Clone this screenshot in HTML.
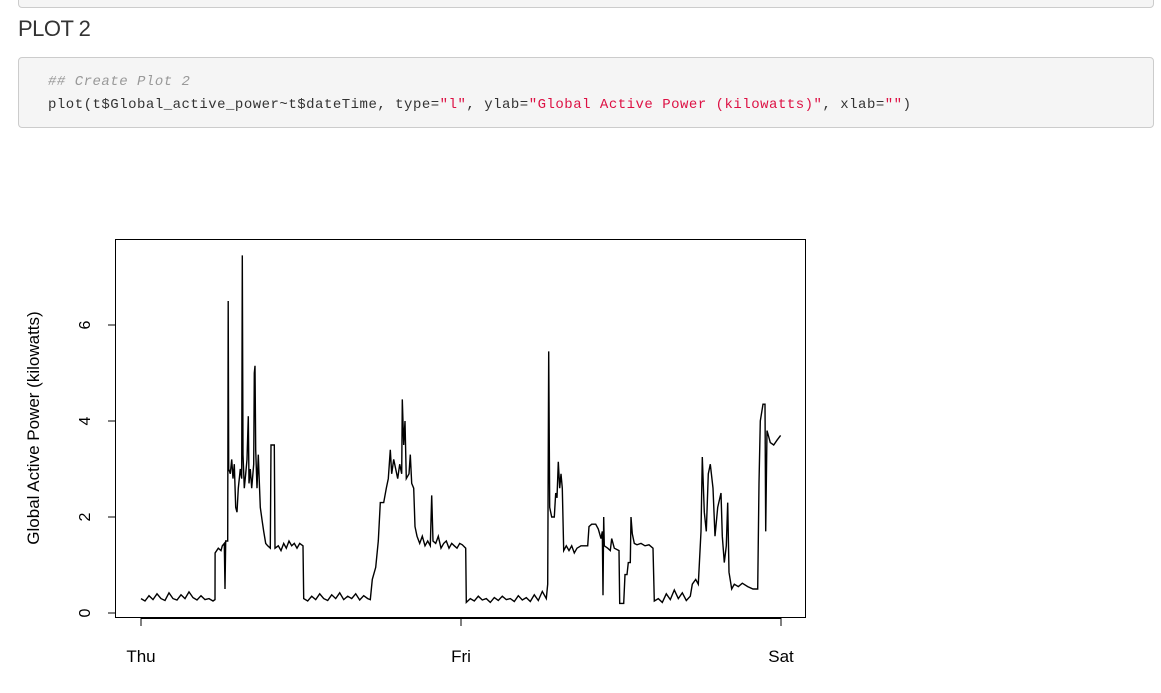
<!DOCTYPE html>
<html><head><meta charset="utf-8"><style>
body{margin:0;width:1161px;height:693px;background:#fff;position:relative;overflow:hidden;font-family:"Liberation Sans",sans-serif}
.prev{position:absolute;left:18px;top:-10px;width:1134px;height:16px;border:1px solid #ccc;border-radius:4px;background:#f5f5f5}
h2{position:absolute;left:18px;top:16px;margin:0;font-size:22px;font-weight:normal;color:#333;letter-spacing:-0.5px}
.code{position:absolute;left:18px;top:57px;width:1134px;height:69px;border:1px solid #ccc;border-radius:4px;background:#f5f5f5;font-family:"Liberation Mono",monospace;font-size:14px;letter-spacing:0.5px;color:#333}
.code div{position:absolute;left:29px;white-space:pre}
.cm{color:#999;font-style:italic}.st{color:#d14}
svg{position:absolute;left:0;top:0}
</style></head><body>
<div class="prev"></div>
<h2>PLOT 2</h2>
<div class="code">
<div style="top:16px" class="cm">## Create Plot 2</div>
<div style="top:39px">plot(t$Global_active_power~t$dateTime, type=<span class="st">"l"</span>, ylab=<span class="st">"Global Active Power (kilowatts)"</span>, xlab=<span class="st">""</span>)</div>
</div>
<svg id="chart" width="1161" height="693"></svg>
<script>
const hours=[0,0.3,0.6,0.9,1.2,1.5,1.8,2.1,2.4,2.7,3.0,3.3,3.6,3.9,4.2,4.5,4.8,5.1,5.4,5.55,
5.56,5.8,6.0,6.1,6.25,6.3,6.35,6.5,6.54,6.58,6.7,6.8,6.9,7.0,7.1,7.2,7.3,7.45,7.55,7.6,7.65,7.75,7.85,7.95,8.05,8.1,8.2,8.3,8.45,8.5,8.55,8.6,8.7,8.8,8.85,8.95,9.1,9.2,9.35,9.5,9.7,9.75,10.0,10.05,10.3,10.5,10.7,10.9,11.1,11.3,11.5,11.7,11.9,12.15,
12.2,12.5,12.8,13.1,13.4,13.7,14.0,14.3,14.6,14.9,15.2,15.5,15.8,16.1,16.4,16.7,17.0,17.2,
17.35,17.6,17.8,17.95,18.2,18.4,18.55,18.7,18.8,18.95,19.1,19.25,19.4,19.55,19.6,19.7,19.8,19.9,20.1,20.2,20.3,20.45,20.55,20.7,20.9,21.1,21.3,21.5,21.7,21.8,21.9,22.1,22.3,22.5,22.7,22.9,23.1,23.3,23.5,23.7,23.9,24.1,24.35,
24.4,24.7,25.0,25.3,25.6,25.9,26.2,26.5,26.8,27.1,27.4,27.7,28.0,28.3,28.6,28.9,29.2,29.5,29.8,30.1,30.4,30.5,
30.58,30.65,30.8,31.0,31.1,31.2,31.3,31.4,31.5,31.6,31.7,31.9,32.1,32.3,32.5,32.7,33.0,33.5,33.6,33.8,34.1,34.3,34.5,34.6,34.65,34.7,34.75,35.0,35.2,35.3,35.5,35.85,
35.9,36.2,36.3,36.45,36.55,36.7,36.75,36.85,37.0,37.2,37.5,37.8,38.1,38.4,
38.5,38.8,39.1,39.4,39.7,40.0,40.3,40.6,40.9,41.2,
41.35,41.6,41.8,42.0,42.1,42.25,42.4,42.55,42.7,42.9,43.05,43.25,43.5,43.6,43.75,43.9,44.0,44.1,44.3,44.5,44.8,45.1,45.5,45.9,46.25,
46.35,46.45,46.65,46.8,46.85,46.95,47.2,47.45,47.7,47.97];
const power=[.3,.25,.36,.28,.4,.3,.26,.42,.3,.27,.38,.3,.44,.32,.27,.36,.28,.3,.25,.28,
1.25,1.35,1.3,1.4,1.45,0.5,1.5,1.5,6.5,3.0,2.9,3.2,2.8,3.1,2.2,2.1,2.6,3.0,2.8,7.45,3.3,2.6,2.9,3.2,4.1,2.7,3.0,2.6,3.1,5.0,5.15,3.4,2.6,3.3,2.9,2.2,1.9,1.7,1.45,1.4,1.35,3.5,3.5,1.35,1.4,1.3,1.45,1.35,1.5,1.4,1.45,1.35,1.45,1.4,
.3,.25,.35,.28,.4,.3,.26,.38,.3,.42,.28,.35,.3,.4,.27,.36,.3,.28,
.7,.95,1.5,2.3,2.3,2.6,2.8,3.4,2.9,3.2,3.0,2.8,3.1,2.9,4.45,3.5,4.0,2.8,2.9,3.3,2.7,2.6,1.8,1.6,1.45,1.6,1.4,1.5,1.4,2.45,1.5,1.45,1.6,1.35,1.45,1.5,1.35,1.45,1.4,1.35,1.45,1.42,1.35,
.22,.3,.25,.35,.27,.3,.22,.32,.26,.35,.28,.3,.24,.36,.27,.32,.24,.38,.26,.45,.3,.6,
5.45,2.2,2.0,2.0,2.5,2.4,3.15,2.6,2.9,2.6,1.3,1.4,1.3,1.4,1.25,1.35,1.4,1.4,1.8,1.85,1.85,1.75,1.55,1.7,0.37,2.0,1.4,1.35,1.3,1.55,1.35,1.3,
.2,.2,.8,.8,1.05,1.05,2.0,1.65,1.45,1.42,1.45,1.4,1.42,1.35,
.25,.3,.22,.4,.28,.48,.3,.42,.26,.35,
.6,.7,.6,1.7,3.25,2.1,1.7,2.9,3.1,2.6,1.6,2.2,2.5,1.6,1.05,1.4,2.3,.85,.5,.6,.55,.62,.55,.5,.5,
2.7,4.0,4.35,4.35,1.7,3.8,3.55,3.5,3.6,3.7];
const yTicks=[0,2,4,6];
const xTickHours=[0,24,48];
const xTickLabels=["Thu","Fri","Sat"];
const NS="http://www.w3.org/2000/svg";
const svg=document.getElementById('chart');
const X=h=>141+h*(320/24);
const Y=v=>613-v*48;
function mk(t,a){const e=document.createElementNS(NS,t);for(const k in a)e.setAttribute(k,a[k]);svg.appendChild(e);return e;}
const box=mk('rect',{x:115.5,y:239.5,width:690,height:378,fill:'none',stroke:'#000','stroke-width':1});


let d='';hours.forEach((h,i)=>{d+=(i?'L':'M')+X(h).toFixed(1)+' '+Y(power[i]).toFixed(1);});
const line=mk('path',{d:d,fill:'none',stroke:'#000','stroke-width':1.4});


const yax=mk('line',{x1:115.5,x2:115.5,y1:Y(yTicks[0]),y2:Y(yTicks[yTicks.length-1]),stroke:'#000'});


yTicks.forEach(v=>{
 const tk=mk('line',{x1:108,x2:115.5,y1:Y(v),y2:Y(v),stroke:'#000'});
 
 
 const t=mk('text',{x:0,y:0,transform:`translate(90,${Y(v)}) rotate(-90)`,'text-anchor':'middle','font-size':16,'font-family':'Liberation Sans, sans-serif'});
 t.textContent=v;
 
 
});
const xax=mk('line',{x1:X(xTickHours[0]),x2:X(xTickHours[2]),y1:618.5,y2:618.5,stroke:'#000'});


xTickHours.forEach((h,i)=>{
 const tk=mk('line',{x1:X(h),x2:X(h),y1:618,y2:626,stroke:'#000'});
 
 
 const t=mk('text',{x:X(h),y:662,'text-anchor':'middle','font-size':17,'font-family':'Liberation Sans, sans-serif'});
 t.textContent=xTickLabels[i];
 
 
});
const yl=mk('text',{x:0,y:0,transform:'translate(39,428) rotate(-90)','text-anchor':'middle','font-size':17,'font-family':'Liberation Sans, sans-serif'});
yl.textContent='Global Active Power (kilowatts)';


</script>
</body></html>
